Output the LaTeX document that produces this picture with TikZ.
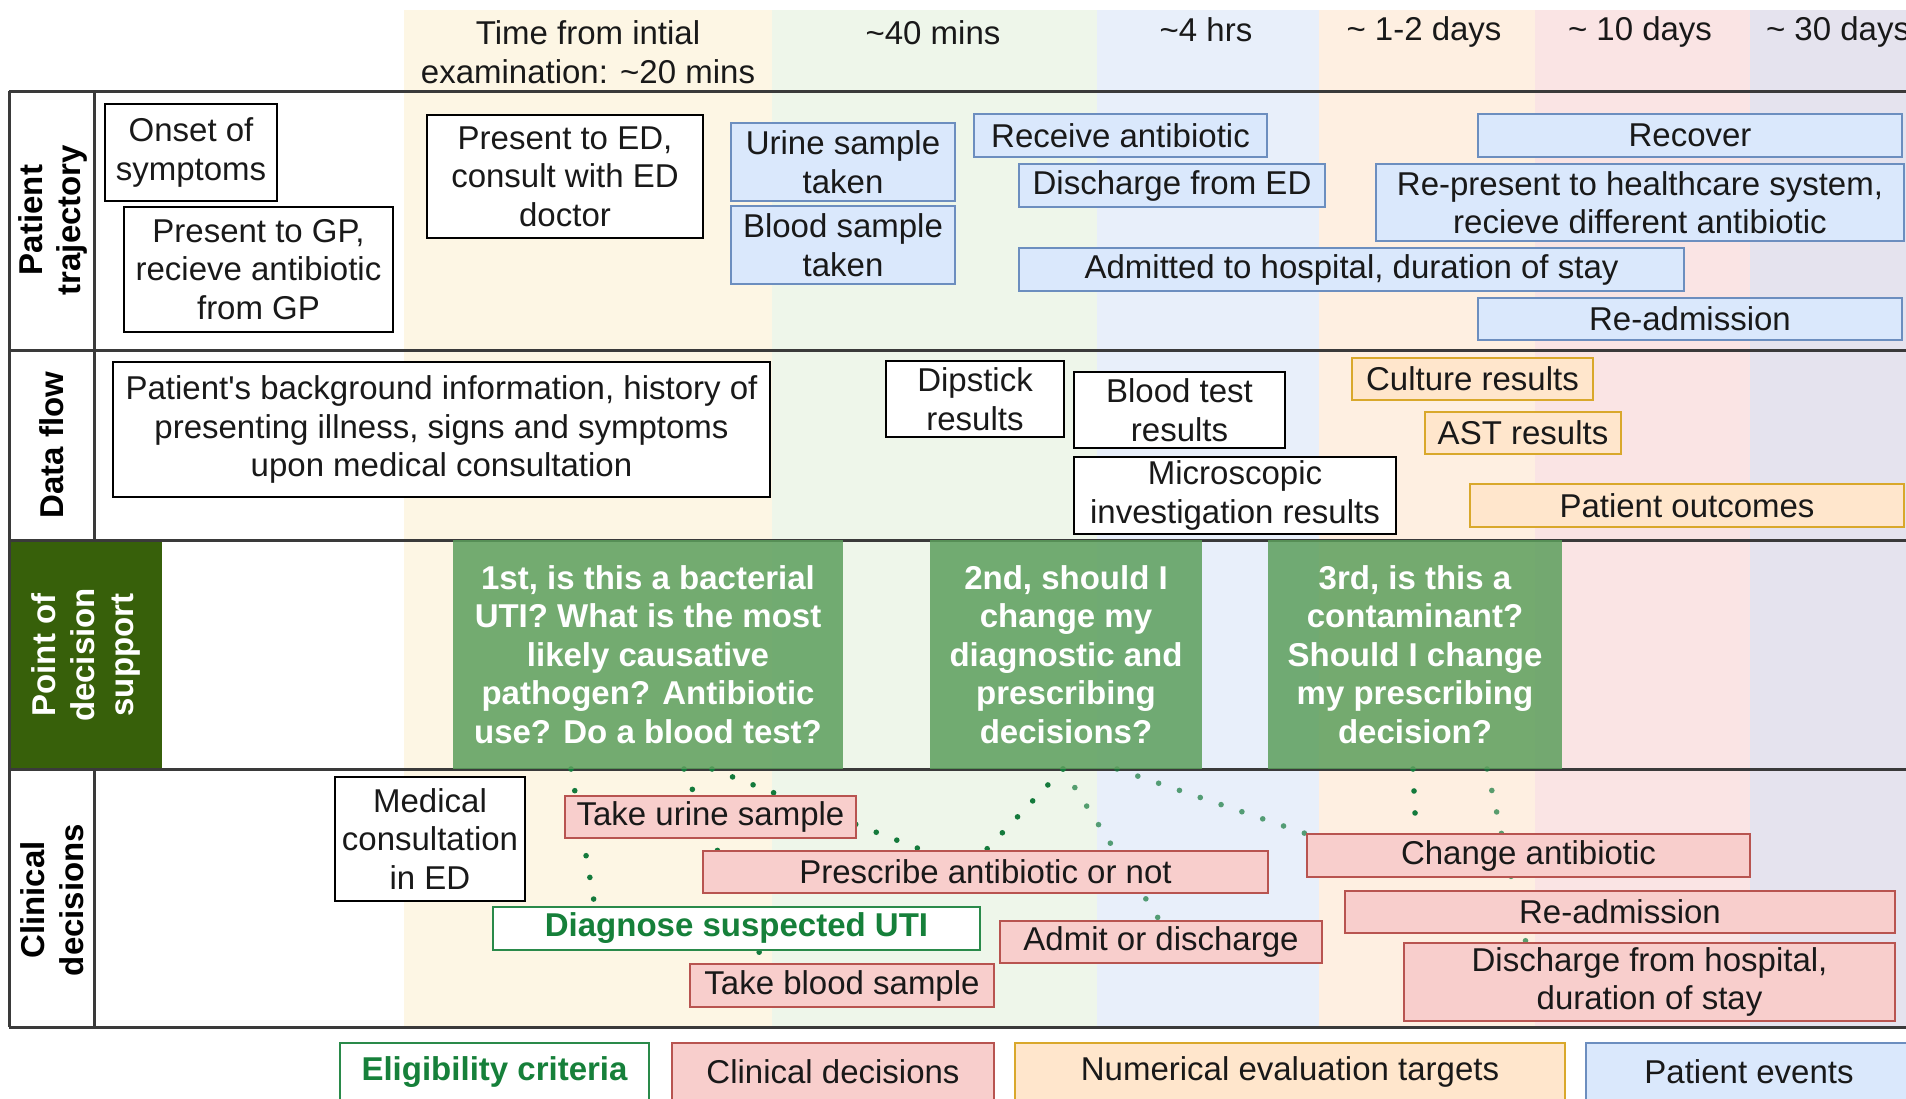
\documentclass[tikz,border=0pt]{standalone}
\usepackage{fontspec}
\setmainfont{Liberation Sans}
\usetikzlibrary{calc}

\definecolor{colA}{HTML}{FDF6E4}
\definecolor{colB}{HTML}{EEF6EA}
\definecolor{colC}{HTML}{E8EFFA}
\definecolor{colD}{HTML}{FEEFE1}
\definecolor{colE}{HTML}{FAE4E4}
\definecolor{colF}{HTML}{E5E3EE}
\definecolor{evtfill}{HTML}{DAE8FC}
\definecolor{evtline}{HTML}{6C8EBF}
\definecolor{tgtfill}{HTML}{FFE6CC}
\definecolor{tgtline}{HTML}{D9A82B}
\definecolor{decfill}{HTML}{F8CECC}
\definecolor{decline}{HTML}{B85450}
\definecolor{eligline}{HTML}{2A8A4A}
\definecolor{eligtext}{HTML}{16803A}
\definecolor{dotcol}{HTML}{147A3C}
\definecolor{labgreen}{HTML}{37600A}
\definecolor{qgreen}{HTML}{5C9E5C}
\definecolor{rule}{HTML}{3A3A3A}

\newcommand{\fs}{\fontsize{16.5}{19.3}\selectfont}
% rectangle node given by its corners (x1,y1) and (x2,y2), in pixel units
\newcommand{\boxat}[7]{\node[#2, minimum width={(#5-#3)*0.5pt}, minimum height={(#6-#4)*0.5pt}] (#1) at ({(#3+#5)/2},{(#4+#6)/2}) {#7};}

\pgfdeclarelayer{bg}
\pgfdeclarelayer{links}
\pgfsetlayers{bg,links,main}

\tikzset{
  every node/.style={font=\fs, inner sep=0pt, outer sep=0pt},
  plain/.style={draw=black, line width=1pt, fill=white, align=center, text=black!90},
  evt/.style={draw=evtline, line width=1.3pt, fill=evtfill, align=center, text=black!90},
  tgt/.style={draw=tgtline, line width=1.3pt, fill=tgtfill, align=center, text=black!90},
  dec/.style={draw=decline, line width=1.3pt, fill=decfill, align=center, text=black!90},
  elig/.style={draw=eligline, line width=1.3pt, fill=white, align=center, text=eligtext, font=\fs\bfseries},
  dq/.style={fill=qgreen, fill opacity=0.85, text opacity=1, text=white, align=center, font=\fs\bfseries},
  lab/.style={rotate=90, align=center, font=\fs\bfseries, text=black},
  hdr/.style={align=center, text=black!90},
  rowline/.style={draw=rule, line width=1.5pt},
  dotln/.style={draw=dotcol, line width=2.8pt, line cap=round, dash pattern=on 0pt off 11pt},
  dotlt/.style={dotln, draw opacity=0.7},
}

\begin{document}
\begin{tikzpicture}[x=0.5pt, y=-0.5pt]
\useasboundingbox (0,0) rectangle (1906,1098);

\begin{pgfonlayer}{bg}
  \fill[white] (0,0) rectangle (1906,1098);
  % time columns
  \fill[colA] (404,10) rectangle (772,1028);
  \fill[colB] (772,10) rectangle (1097,1028);
  \fill[colC] (1097,10) rectangle (1319,1028);
  \fill[colD] (1319,10) rectangle (1535,1028);
  \fill[colE] (1535,10) rectangle (1750,1028);
  \fill[colF] (1750,10) rectangle (1906,1028);
  % decision-support label cell
  \fill[labgreen] (9,540) rectangle (162,769);
  % table rules
  \draw[rowline] (9,91) -- (1906,91);
  \draw[rowline] (9,350) -- (1906,350);
  \draw[rowline] (9,540) -- (1906,540);
  \draw[rowline] (9,769) -- (1906,769);
  \draw[rowline] (9,1027) -- (1906,1027);
  \draw[rowline] (9,91) -- (9,1027);
  \draw[rowline] (94,91) -- (94,540);
  \draw[rowline] (94,769) -- (94,1027);
\end{pgfonlayer}

% time headings
\node[hdr] (h1) at (588,52) {Time from intial\\examination: \textasciitilde20 mins};
\node[hdr] (h2) at (933,33) {\textasciitilde40 mins};
\node[hdr] (h3) at (1206,30) {\textasciitilde4 hrs};
\node[hdr] (h4) at (1424,32) {\textasciitilde\ 1-2 days};
\node[hdr] (h5) at (1640,32) {\textasciitilde\ 10 days};
\node[hdr, anchor=west] (h6) at (1766,32) {\textasciitilde\ 30 days};

% row labels
\node[lab] (l1) at (53,220) {Patient\\trajectory};
\node[lab] (l2) at (52,445) {Data flow};
\node[lab, text=white] (l3) at (86,655) {Point of\\decision\\support};
\node[lab] (l4) at (52,900) {Clinical\\decisions};

% patient trajectory
\boxat{onset}{plain}{105}{104}{277}{201}{Onset of\\symptoms}
\boxat{gp}{plain}{124}{207}{393}{332}{Present to GP,\\recieve antibiotic\\from GP}
\boxat{ed}{plain}{427}{115}{703}{238}{Present to ED,\\consult with ED\\doctor}
\boxat{urine}{evt}{731}{123}{955}{201}{Urine sample\\taken}
\boxat{blood}{evt}{731}{206}{955}{284}{Blood sample\\taken}
\boxat{recab}{evt}{974}{114}{1267}{157}{Receive antibiotic}
\boxat{dised}{evt}{1019}{164}{1325}{207}{Discharge from ED}
\boxat{admitted}{evt}{1019}{248}{1684}{291}{Admitted to hospital, duration of stay}
\boxat{recover}{evt}{1478}{114}{1902}{157}{Recover}
\boxat{repres}{evt}{1376}{164}{1904}{241}{Re-present to healthcare system,\\recieve different antibiotic}
\boxat{readm}{evt}{1478}{298}{1902}{340}{Re-admission}

% data flow
\boxat{bginfo}{plain}{113}{362}{770}{497}{Patient\textquotesingle s background information, history of\\presenting illness, signs and symptoms\\upon medical consultation}
\boxat{dip}{plain}{886}{361}{1064}{437}{Dipstick\\results}
\boxat{btr}{plain}{1074}{372}{1285}{448}{Blood test\\results}
\boxat{micro}{plain}{1074}{457}{1396}{534}{Microscopic\\investigation results}
\boxat{cult}{tgt}{1352}{358}{1593}{400}{Culture results}
\boxat{ast}{tgt}{1425}{412}{1621}{454}{AST results}
\boxat{outc}{tgt}{1470}{484}{1904}{527}{Patient outcomes}

% points of decision support
\boxat{q1}{dq}{453}{540}{843}{769}{1st, is this a bacterial\\UTI? What is the most\\likely causative\\pathogen? Antibiotic\\use? Do a blood test?}
\boxat{q2}{dq}{930}{540}{1202}{769}{2nd, should I\\change my\\diagnostic and\\prescribing\\decisions?}
\boxat{q3}{dq}{1268}{540}{1562}{769}{3rd, is this a\\contaminant?\\Should I change\\my prescribing\\decision?}

% clinical decisions
\boxat{medcons}{plain}{335}{777}{525}{901}{Medical\\consultation\\in ED}
\boxat{turine}{dec}{565}{796}{856}{838}{Take urine sample}
\boxat{presc}{dec}{703}{851}{1268}{893}{Prescribe antibiotic or not}
\boxat{diag}{elig}{493}{907}{980}{950}{Diagnose suspected UTI}
\boxat{tblood}{dec}{690}{964}{994}{1007}{Take blood sample}
\boxat{admdis}{dec}{1000}{921}{1322}{963}{Admit or discharge}
\boxat{chab}{dec}{1307}{834}{1750}{877}{Change antibiotic}
\boxat{readm2}{dec}{1345}{891}{1895}{933}{Re-admission}
\boxat{dishosp}{dec}{1404}{943}{1895}{1021}{Discharge from hospital,\\duration of stay}

% legend
\boxat{lg1}{elig}{340}{1043}{649}{1101}{Eligibility criteria}
\boxat{lg2}{dec}{672}{1043}{994}{1101}{Clinical decisions}
\boxat{lg3}{tgt}{1015}{1043}{1565}{1101}{Numerical evaluation targets}
\boxat{lg4}{evt}{1586}{1043}{1912}{1101}{Patient events}

% links from decision points to clinical decisions
\begin{pgfonlayer}{links}
  \draw[dotln] ([xshift=59pt]q1.south west) -- ([xshift=51pt]diag.north west);
  \draw[dotln] ([xshift=115.5pt]q1.south west) -- ([xshift=37pt]tblood.north west);
  \draw[dotln] ([xshift=129.5pt]q1.south west) -- ([xshift=111pt]presc.north west);
  \draw[dotln] ([xshift=66.5pt]q2.south west) -- ([xshift=141pt]presc.north west);
  \draw[dotlt] ([xshift=66.5pt]q2.south west) -- ([xshift=80pt]admdis.north west);
  \draw[dotlt] ([xshift=93.5pt]q2.south west) -- (chab.north west);
  \draw[dotln] ([xshift=72.5pt]q3.south west) -- ([xshift=54.5pt]chab.north west);
  \draw[dotlt] ([xshift=109.5pt]q3.south west) -- ([xshift=61pt]dishosp.north west);
\end{pgfonlayer}
\end{tikzpicture}
\end{document}
